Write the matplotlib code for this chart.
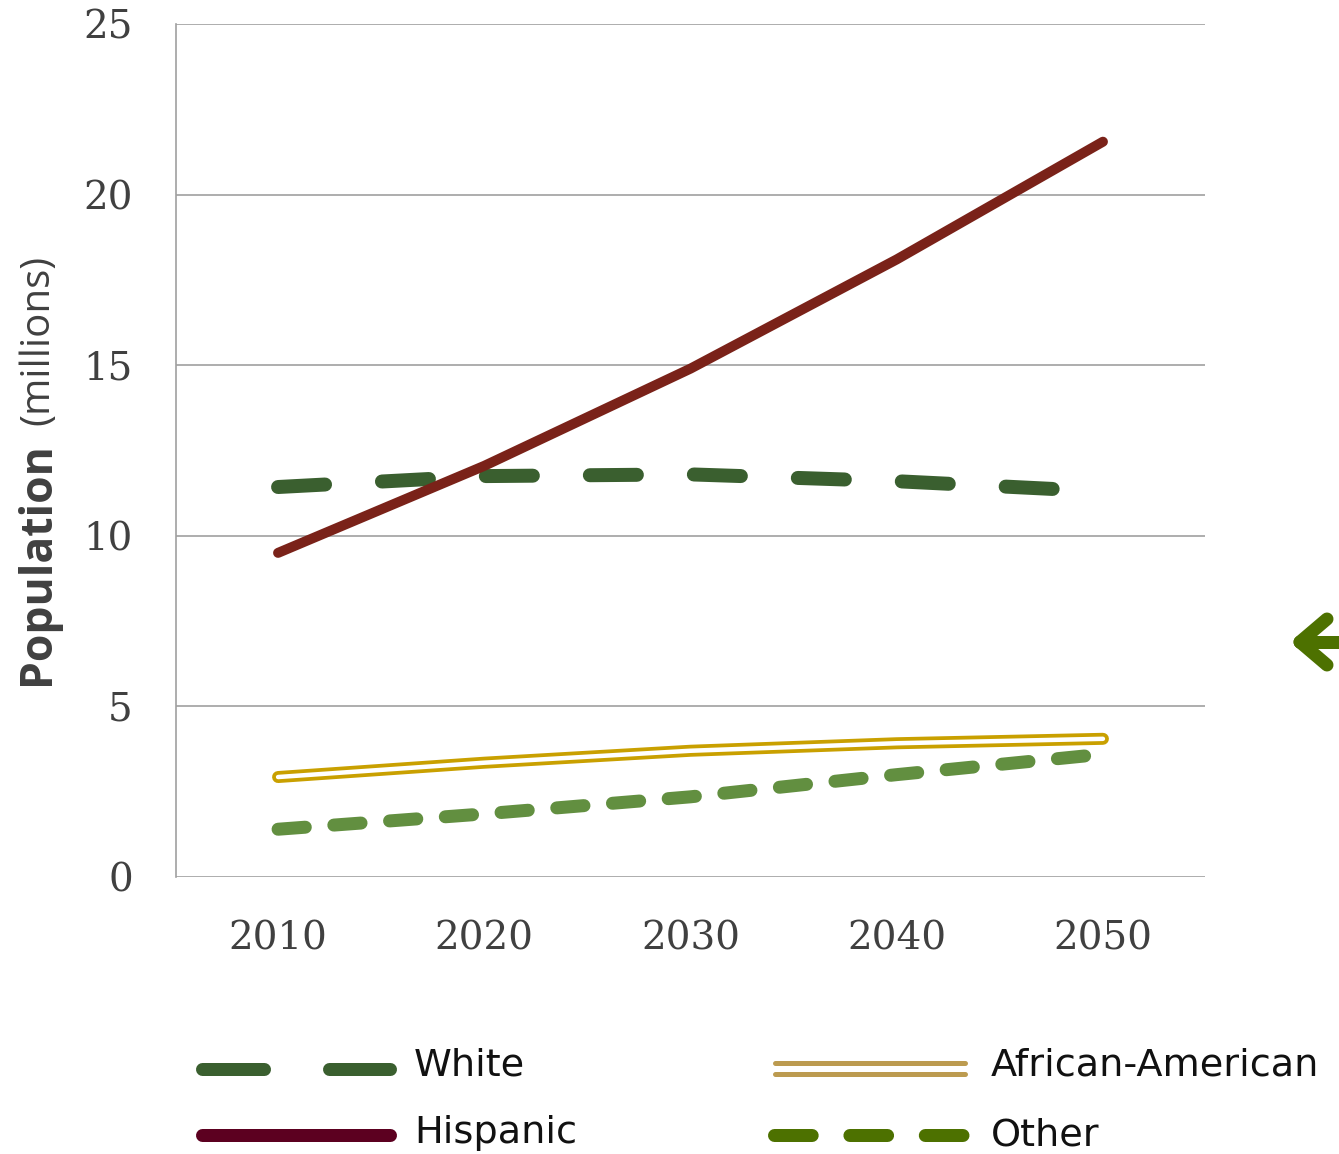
import matplotlib.pyplot as plt
from matplotlib.lines import Line2D

years = [2010, 2020, 2030, 2040, 2050]
white = [11.43, 11.75, 11.8, 11.6, 11.3]
hispanic = [9.5, 12.05, 14.9, 18.1, 21.55]
african_american = [2.93, 3.35, 3.7, 3.92, 4.05]
other = [1.4, 1.85, 2.35, 3.0, 3.6]

y_ticks = [0, 5, 10, 15, 20, 25]
legend_labels = ['White', 'Hispanic', 'African-American', 'Other']

W, H = 1339, 1154
fig = plt.figure(figsize=(W / 100, H / 100), dpi=100)
ax = fig.add_axes([176 / W, 1 - 877 / H, (1205 - 176) / W, (877 - 24) / H])

px = 0.72  # points per pixel

# Hispanic
ax.plot(years, hispanic, color='#7a2219', lw=10 * px, solid_capstyle='round', zorder=4)
# White
ax.plot(years, white, color='#3a5f2f', lw=14 * px, dash_capstyle='round',
        dashes=(3.36, 4.07), zorder=3)
# African-American (outlined line)
ax.plot(years, african_american, color='#c9a000', lw=12 * px, solid_capstyle='round', zorder=3)
ax.plot(years, african_american, color='white', lw=4.5 * px, solid_capstyle='round', zorder=3)
# Other
ax.plot(years, other, color='#628f40', lw=13 * px, dash_capstyle='round',
        dashes=(2.1, 2.2), zorder=3)

ax.set_xlim(2005.05, 2054.95)
ax.set_ylim(0, 25)
ax.set_xticks(years)
ax.set_yticks(y_ticks)
ax.grid(axis='y', color='#a0a0a0', lw=1.2)
ax.set_axisbelow(True)
for s in ['top', 'right', 'bottom']:
    ax.spines[s].set_visible(False)
ax.spines['left'].set_color('#a0a0a0')
ax.spines['left'].set_linewidth(1.2)
ax.tick_params(length=0, labelsize=28, colors='#404040')
ax.tick_params(axis='y', pad=31)
ax.tick_params(axis='x', pad=31)
for lab in ax.get_xticklabels() + ax.get_yticklabels():
    lab.set_fontfamily('DejaVu Serif')

# y label in two parts
fig.text(38 / W, 1 - 685 / H, 'Population', rotation=90, ha='center', va='bottom',
         fontsize=32, fontweight='bold', color='#404040', family='Open Sans')
fig.text(38 / W, 1 - 255 / H, '(millions)', rotation=90, ha='center', va='top',
         fontsize=29, color='#404040', family='Open Sans')

# legend drawn by hand
def fx(x):
    return x / W

def fy(y):
    return 1 - y / H

fig.add_artist(Line2D([fx(202), fx(390)], [fy(1069), fy(1069)], color='#3a5f2f',
                      lw=13 * px, dash_capstyle='round', dashes=(4.77, 5.0)))
fig.add_artist(Line2D([fx(202), fx(390)], [fy(1135), fy(1135)], color='#5c0020',
                      lw=13 * px, solid_capstyle='round'))
fig.add_artist(Line2D([fx(775), fx(965)], [fy(1063), fy(1063)], color='#bc9b50',
                      lw=5 * px, solid_capstyle='round'))
fig.add_artist(Line2D([fx(775), fx(965)], [fy(1074), fy(1074)], color='#bc9b50',
                      lw=5 * px, solid_capstyle='round'))
fig.add_artist(Line2D([fx(774), fx(964)], [fy(1135), fy(1135)], color='#4d7100',
                      lw=13 * px, dash_capstyle='round', dashes=(2.9, 2.9)))

for lab, x, y in zip(legend_labels, [414, 414, 991, 991], [1066, 1133, 1066, 1135]):
    fig.text(fx(x), fy(y), lab, ha='left', va='center', fontsize=27.5, color='#111111',
             family='DejaVu Sans')

# arrow at right edge
arrow_kw = dict(color='#4d7100', lw=13 * px, solid_capstyle='round')
fig.add_artist(Line2D([fx(1300), fx(1345)], [fy(642), fy(642)], **arrow_kw))
fig.add_artist(Line2D([fx(1300), fx(1327)], [fy(642), fy(619)], **arrow_kw))
fig.add_artist(Line2D([fx(1300), fx(1327)], [fy(642), fy(665)], **arrow_kw))

fig.savefig('out.png', dpi=100)
